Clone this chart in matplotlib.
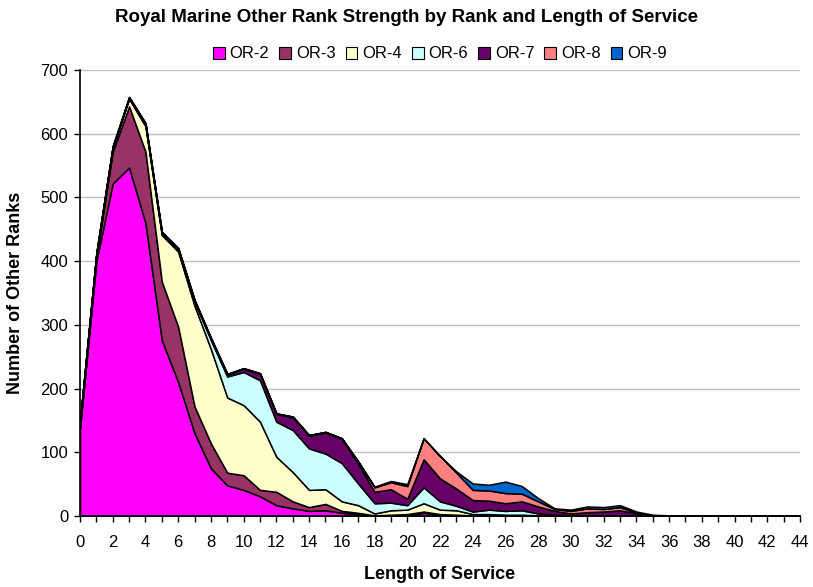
import numpy as np
import matplotlib
matplotlib.use("Agg")
import matplotlib.pyplot as plt
from matplotlib.patches import Patch

plt.rcParams['font.family'] = ['Liberation Sans', 'DejaVu Sans']

# length of service (years)
years = list(range(45))

# strength per rank
or2 = [138, 400, 522, 547, 460, 276, 210, 130, 75, 48, 41, 31, 17, 12, 8, 9, 5, 3, 1, 1, 1, 5, 2, 1,
       0, 0, 0, 0, 0, 0, 0, 0, 0, 0, 0, 0, 0, 0, 0, 0, 0, 0, 0, 0, 0]
or3 = [3, 7, 50, 96, 112, 92, 87, 42, 39, 20, 23, 10, 21, 11, 6, 10, 3, 2, 0, 1, 2, 2, 1, 1,
       1, 1, 1, 1, 0, 0, 0, 0, 0, 0, 0, 0, 0, 0, 0, 0, 0, 0, 0, 0, 0]
or4 = [4, 3, 6, 12, 40, 73, 118, 158, 148, 118, 110, 107, 55, 46, 27, 23, 15, 12, 3, 7, 7, 13, 7, 7,
       2, 2, 1, 1, 1, 0, 0, 0, 0, 0, 0, 0, 0, 0, 0, 0, 0, 0, 0, 0, 0]
or6 = [2, 1, 1, 1, 2, 2, 3, 6, 14, 33, 52, 65, 55, 66, 65, 56, 60, 34, 16, 12, 7, 25, 13, 7,
       4, 7, 6, 7, 3, 2, 1, 1, 1, 1, 0, 0, 0, 0, 0, 0, 0, 0, 0, 0, 0]
or7 = [1, 1, 1, 1, 2, 2, 2, 2, 2, 3, 5, 10, 12, 20, 20, 33, 38, 31, 18, 21, 10, 44, 36, 27,
       18, 14, 12, 14, 11, 6, 3, 5, 6, 8, 4, 1, 1, 0, 0, 0, 0, 0, 0, 0, 0]
or8 = [1, 0, 0, 0, 0, 1, 0, 1, 1, 1, 1, 1, 1, 1, 1, 1, 1, 3, 7, 11, 20, 33, 35, 25,
       16, 16, 16, 12, 8, 3, 4, 6, 4, 5, 1, 0, 0, 0, 0, 0, 0, 0, 0, 0, 0]
or9 = [1, 0, 0, 1, 1, 0, 1, 0, 1, 0, 0, 0, 0, 0, 0, 0, 0, 1, 1, 2, 3, 0, 0, 2,
       10, 9, 18, 12, 5, 1, 2, 3, 3, 3, 2, 1, 0, 1, 1, 0, 0, 0, 0, 0, 0]

ranks = ['OR-2', 'OR-3', 'OR-4', 'OR-6', 'OR-7', 'OR-8', 'OR-9']
colors = ['#FF00FF', '#993366', '#FFFFCC', '#CCFFFF', '#660066', '#FF8080', '#0066CC']

fig = plt.figure(figsize=(8.13, 5.87), dpi=100)
ax = fig.add_axes([80 / 813, 1 - 516 / 587, 720 / 813, 446 / 587])

ax.stackplot(years, or2, or3, or4, or6, or7, or8, or9, colors=colors,
             edgecolor='black', linewidth=1.1, zorder=3)

ax.set_xlim(0, 44)
ax.set_ylim(0, 700)
ax.set_xticks(range(0, 45, 2))
ax.set_xticks(range(0, 45), minor=True)
ax.set_yticks(range(0, 701, 100))
ax.tick_params(axis='both', which='both', direction='out', length=4.5, width=1, labelsize=12)
ax.tick_params(axis='x', which='major', pad=9)
ax.tick_params(axis='y', pad=4)
ax.yaxis.grid(True, color='#C0C0C0', linewidth=1, zorder=0)
ax.set_axisbelow(True)
for s in ['top', 'right']:
    ax.spines[s].set_visible(False)
for s in ['left', 'bottom']:
    ax.spines[s].set_linewidth(1.2)
    ax.spines[s].set_zorder(5)

ax.set_xlabel('Length of Service', fontsize=13, fontweight='bold', labelpad=12)
ax.set_ylabel('Number of Other Ranks', fontsize=13, fontweight='bold', labelpad=12)

fig.text(0.5, 1 - 18 / 587, 'Royal Marine Other Rank Strength by Rank and Length of Service',
         ha='center', va='center', fontsize=13.5, fontweight='bold')

handles = [Patch(facecolor=c, edgecolor='black', linewidth=0.8) for c in colors]
fig.legend(handles, ranks, loc='center', bbox_to_anchor=(440 / 813, 1 - 54 / 587), ncol=7,
           frameon=False, fontsize=12, handlelength=0.7, handleheight=0.7,
           handletextpad=0.3, columnspacing=0.6)

fig.savefig('out.png', dpi=100)
